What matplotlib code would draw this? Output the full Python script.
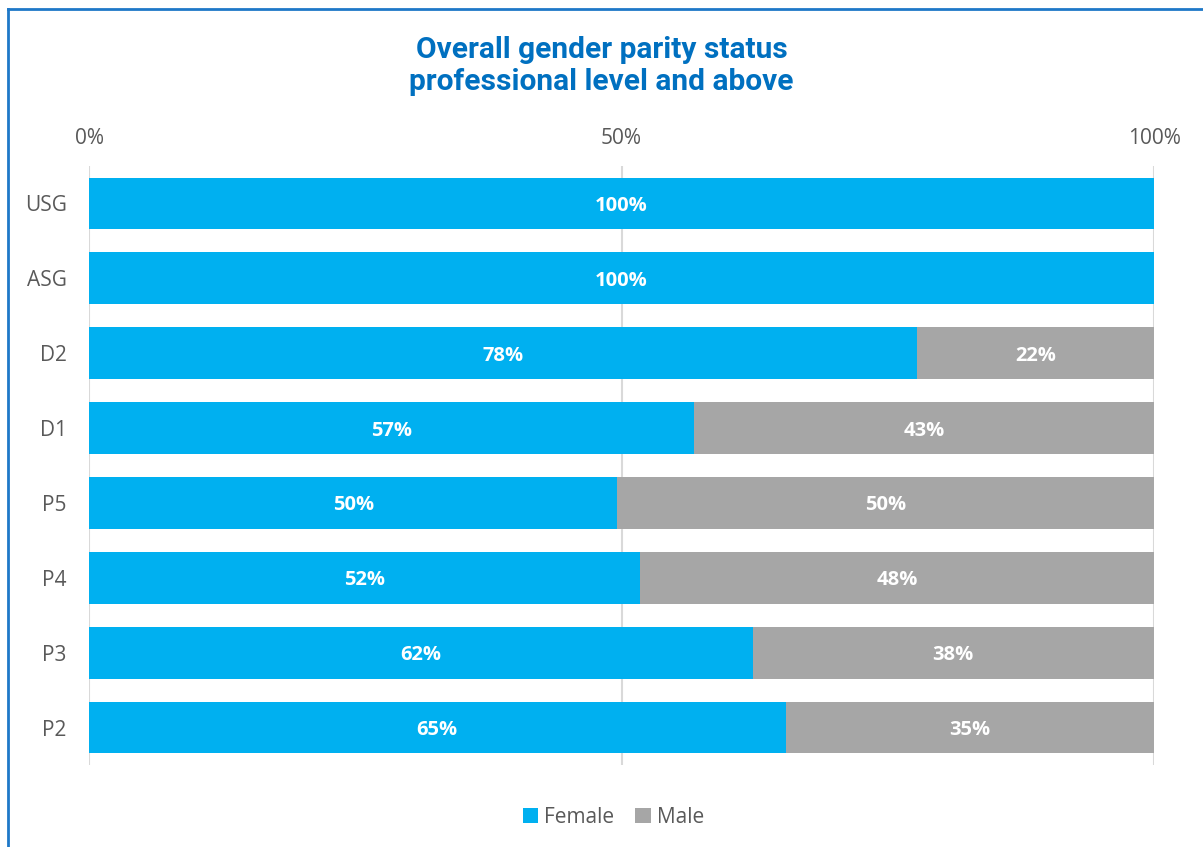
import numpy as np
import matplotlib.pyplot as plt
from matplotlib.lines import Line2D
from matplotlib.patches import Patch

levels = ['USG', 'ASG', 'D2', 'D1', 'P5', 'P4', 'P3', 'P2']
female = [100.0, 100.0, 77.7, 56.8, 49.6, 51.7, 62.3, 65.4]
male = [0.0, 0.0, 22.3, 43.2, 50.4, 48.3, 37.7, 34.6]

blue = '#00B0F0'
grey = '#A6A6A6'
txt = '#595959'

plt.rcParams['font.family'] = ['Open Sans', 'DejaVu Sans']

fig = plt.figure(figsize=(12.03, 8.47), dpi=100)
ax = fig.add_axes([0.074, 0.0968, 0.8853, 0.7072])

y = np.arange(len(levels))
fb = ax.barh(y, female, height=0.69, color=blue, zorder=3)
mb = ax.barh(y, male, left=female, height=0.69, color=grey, zorder=3)

for i in range(len(levels)):
    if female[i] > 0:
        ax.text(female[i] / 2, y[i], f'{female[i]:.0f}%', ha='center', va='center_baseline',
                color='white', fontsize=14.5, fontweight='bold', zorder=4)
    if male[i] > 0:
        ax.text(female[i] + male[i] / 2, y[i], f'{male[i]:.0f}%', ha='center',
                va='center_baseline', color='white', fontsize=14.5, fontweight='bold',
                zorder=4)

ax.set_xlim(0, 100)
ax.set_ylim(len(levels) - 0.5, -0.5)
ax.set_yticks(y)
ax.set_yticklabels(levels)
ax.set_xticks([0, 50, 100])
ax.set_xticklabels(['0%', '50%', '100%'])
ax.xaxis.tick_top()
ax.tick_params(axis='x', length=0, pad=12.5, labelsize=15, labelcolor=txt)
ax.tick_params(axis='y', length=0, pad=16, labelsize=15, labelcolor=txt)
ax.grid(axis='x', color='#D9D9D9', linewidth=1.5, zorder=0)
for s in ax.spines.values():
    s.set_visible(False)

fig.text(0.5, 0.922, 'Overall gender parity status\nprofessional level and above',
         ha='center', va='center', fontsize=21.5, fontweight='bold', color='#0070C0',
         family=['Roboto', 'DejaVu Sans'], linespacing=1.15)

handles = [Patch(facecolor=blue), Patch(facecolor=grey)]
fig.legend(handles, ['Female', 'Male'], loc='center', bbox_to_anchor=(0.51, 0.035),
           ncol=2, frameon=False, fontsize=15, handlelength=0.75, handleheight=0.75,
           handletextpad=0.3, columnspacing=1.0, labelcolor=txt)

# frame lines on the left and top edges
fig.add_artist(Line2D([0.0063, 0.0063], [0, 0.9894], color='#1E78C8', linewidth=2,
                      transform=fig.transFigure))
fig.add_artist(Line2D([0.0063, 1], [0.9894, 0.9894], color='#1E78C8', linewidth=2,
                      transform=fig.transFigure))

fig.savefig('out.png', dpi=100)
